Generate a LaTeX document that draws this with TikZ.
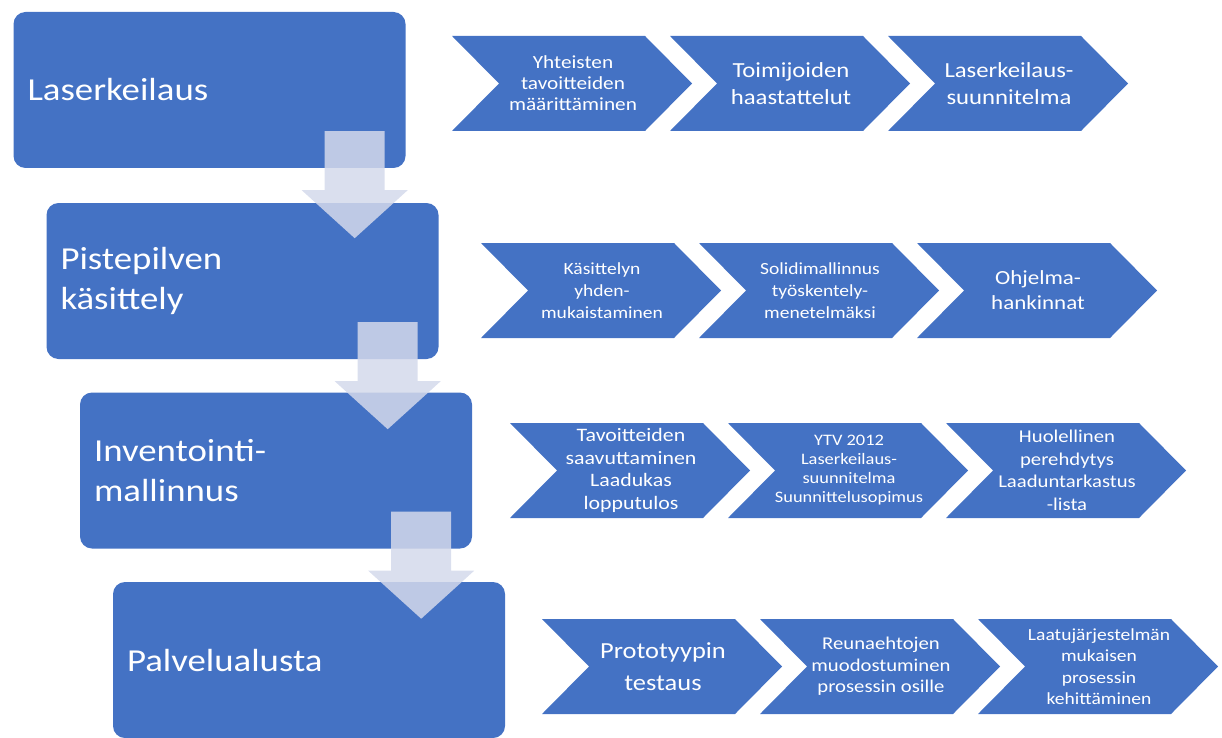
\documentclass[tikz,border=0pt]{standalone}
\usepackage{fontspec}
\setmainfont{Carlito}[FakeStretch=1.15]
\usetikzlibrary{positioning, calc}

\definecolor{stepblue}{HTML}{4472C4}
\definecolor{arrowgrey}{RGB}{212,217,235}

\tikzset{
  phase/.style={fill=stepblue, rounded corners=12pt, minimum width=392pt, minimum height=156pt,
    text width=364pt, inner xsep=14pt, align=left, text=white, font=\fontsize{32}{40}\selectfont},
  tasktext/.style={text=white, align=center, inner sep=0pt},
  fs/.style n args={2}{font=\fontsize{#1}{#2}\selectfont}
}

\begin{document}
\begin{tikzpicture}[x=1pt, y=-1pt]
\useasboundingbox (0,0) rectangle (1222,738);

% Phase boxes
\node[phase] (laser) at (209.5,90) {Laserkeilaus};
\node[phase] (piste) at (242.5,281) {Pistepilven\\käsittely};
\node[phase] (invent) at (276,470.5) {Inventointi-\\mallinnus};
\node[phase] (palvelu) at (309,660) {Palvelualusta};

% Down arrows between phases
\foreach \a in {laser, piste, invent} {
  \fill[arrowgrey, opacity=0.85] ($(\a.south east)+(-81,-37)$) -- ++(60,0) -- ++(0,59) -- ++(23,0)
    -- ++(-53,48) -- ++(-53,-48) -- ++(23,0) -- cycle;
}

% Chevrons
\foreach \r/\x/\y in {1/452/36, 2/481/243, 3/510/423, 4/542/619} {
  \foreach \i in {0,1,2} {
    \fill[stepblue] (\x+218*\i,\y) -- ++(193,0) -- ++(47,47.5) -- ++(-47,47.5) -- ++(-193,0)
      -- ++(47,-47.5) -- cycle;
    \coordinate (c\r\i) at (\x+218*\i+121,\y+47.5);
  }
}

% Chevron texts
\node[tasktext, fs={18.5}{21}] (t10) at (c10) {Yhteisten\\tavoitteiden\\määrittäminen};
\node[tasktext, fs={21.5}{27}] (t11) at (c11) {Toimijoiden\\haastattelut};
\node[tasktext, fs={21.5}{27}] (t12) at (c12) {Laserkeilaus-\\suunnitelma};
\node[tasktext, fs={17}{22}] (t20) at (c20) {Käsittelyn\\yhden-\\mukaistaminen};
\node[tasktext, fs={17}{22}] (t21) at (c21) {Solidimallinnus\\työskentely-\\menetelmäksi};
\node[tasktext, fs={20}{25}] (t22) at (c22) {Ohjelma-\\hankinnat};
\node[tasktext, fs={19}{22.5}] (t30) at (c30) {Tavoitteiden\\saavuttaminen\\Laadukas\\lopputulos};
\node[tasktext, fs={16}{19}] (t31) at (c31) {YTV 2012\\Laserkeilaus-\\suunnitelma\\Suunnittelusopimus};
\node[tasktext, fs={18}{22.5}] (t32) at (c32) {Huolellinen\\perehdytys\\Laaduntarkastus\\-lista};
\node[tasktext, fs={23}{32}] (t40) at (c40) {Prototyypin\\testaus};
\node[tasktext, fs={18}{21.5}] (t41) at (c41) {Reunaehtojen\\muodostuminen\\prosessin osille};
\node[tasktext, fs={17}{21.5}] (t42) at (c42) {Laatujärjestelmän\\mukaisen\\prosessin\\kehittäminen};

\end{tikzpicture}
\end{document}
